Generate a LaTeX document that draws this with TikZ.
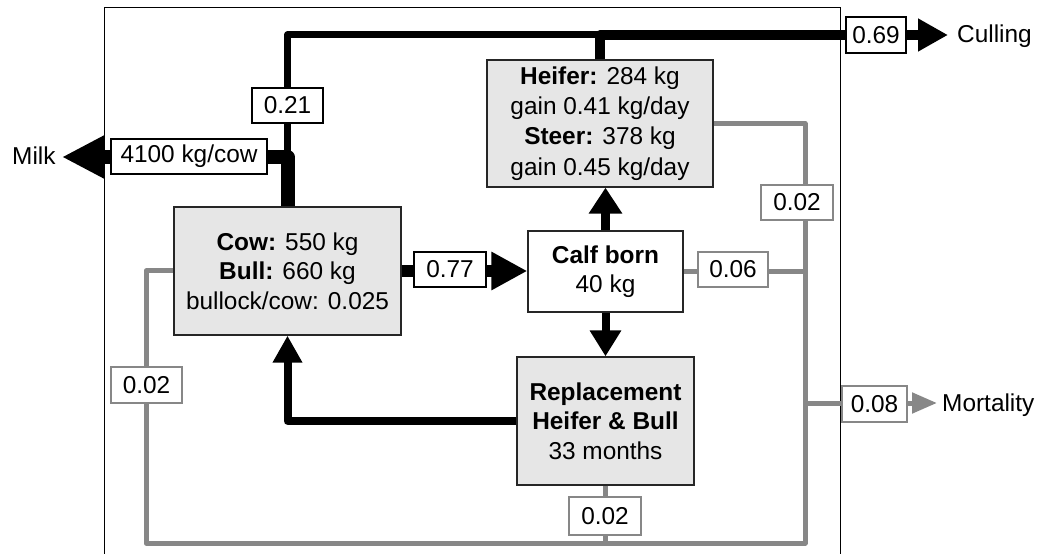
\documentclass[tikz,border=0pt]{standalone}
\usepackage{fontspec}
\setmainfont{Liberation Sans}
\usetikzlibrary{arrows.meta}
\definecolor{mgray}{RGB}{135,135,135}
\definecolor{boxfill}{RGB}{230,230,230}
\begin{document}
\begin{tikzpicture}[x=1bp,y=-1bp,
  every node/.style={font=\fontsize{24.4bp}{29.5bp}\selectfont, inner sep=0pt},
  mainbox/.style={draw=black!85, line width=1.3bp, align=center},
  graybox/.style={mainbox, fill=boxfill},
  lab/.style={draw=black, line width=1.3bp, fill=white},
  glab/.style={draw=mgray, line width=1.3bp, fill=white},
  flow/.style={line join=round, draw=black},
  gflow/.style={line join=round, draw=mgray, line width=5bp},
]
\useasboundingbox (0,0) rectangle (1039,554);
\draw[line width=1bp] (104,554) -- (104,8) -- (840,8) -- (840,554);

% main boxes
\node[graybox, minimum width=227bp, minimum height=128bp] (cow) at (287.5,271)
  {\textbf{Cow:} 550 kg\\\textbf{Bull:} 660 kg\\bullock/cow: 0.025};
\node[graybox, minimum width=226bp, minimum height=127bp,
  font=\fontsize{24.4bp}{30.3bp}\selectfont] (heifer) at (600,123.5)
  {\textbf{Heifer:} 284 kg\\gain 0.41 kg/day\\\textbf{Steer:} 378 kg\\gain 0.45 kg/day};
\node[mainbox, fill=white, minimum width=155bp, minimum height=81bp] (calf) at (605.5,271.5)
  {\textbf{Calf born}\\40 kg};
\node[graybox, minimum width=177bp, minimum height=128bp] (repl) at (605.5,421)
  {\textbf{Replacement}\\\textbf{Heifer \& Bull}\\33 months};

% coordinates
\coordinate (milktip) at (62,157);
\coordinate (jmilk) at (287.5,157);
\coordinate (topl) at (287.5,35);
\coordinate (topm) at (600,35);
\coordinate (culltip) at (948,35);
\coordinate (gbr) at (805,543);
\coordinate (gbl) at (146,543);
\coordinate (mj) at (805,403);
\coordinate (morttip) at (937,403);

% gray mortality flows
\draw[gflow] (heifer.east) -| (gbr) -- (gbl) |- (cow.west);
\draw[gflow] (calf.east) -- (calf.east -| gbr);
\draw[gflow] (repl.south) -- (repl.south |- gbr);
\draw[gflow, -{Triangle[length=25bp,width=20bp]}] (mj) -- (morttip);

% black flows
\draw[flow, line width=7bp] (jmilk) -- (topl) -- (topm);
\draw[flow, line width=14bp, -{Triangle[length=42bp,width=40bp]}] (cow.north) |- (milktip);
\draw[flow, line width=9.5bp, -{Triangle[length=30bp,width=31bp]}] (heifer.north) |- (culltip);
\draw[flow, line width=12bp, -{Triangle[length=36bp,width=36bp]}] (cow.east) -- (cow.east -| calf.west);
\draw[flow, line width=9bp, -{Triangle[length=26bp,width=32bp]}] (calf.north) -- (calf.north |- heifer.south);
\draw[flow, line width=8bp, -{Triangle[length=26bp,width=30bp]}] (calf.south) -- (repl.north);
\draw[flow, line width=8bp, -{Triangle[length=27bp,width=28bp]}] (repl.west) -| (cow.south);

% labels
\node[lab, minimum width=156bp, minimum height=35bp] (lmilk) at (189,156.5) {4100 kg/cow};
\node[lab, minimum width=71bp, minimum height=35bp] (l021) at (287.5,105.5) {0.21};
\node[lab, minimum width=60bp, minimum height=36bp] (l069) at (876,35) {0.69};
\node[lab, minimum width=72bp, minimum height=35bp] (l077) at (450,269.5) {0.77};
\node[glab, minimum width=70bp, minimum height=35bp] (l006) at (733,269.5) {0.06};
\node[glab, minimum width=72bp, minimum height=35bp] (l002a) at (797,202.5) {0.02};
\node[glab, minimum width=71bp, minimum height=36bp] (l002b) at (146.5,385) {0.02};
\node[glab, minimum width=72bp, minimum height=38bp] (l002c) at (605,516) {0.02};
\node[glab, minimum width=65bp, minimum height=36bp] (l008) at (874.5,404) {0.08};

% outside texts
\node[anchor=base west] (milk) at (12,165) {Milk};
\node[anchor=base west] (culling) at (957,43) {Culling};
\node[anchor=base west] (mortality) at (942,411) {Mortality};
\end{tikzpicture}
\end{document}
